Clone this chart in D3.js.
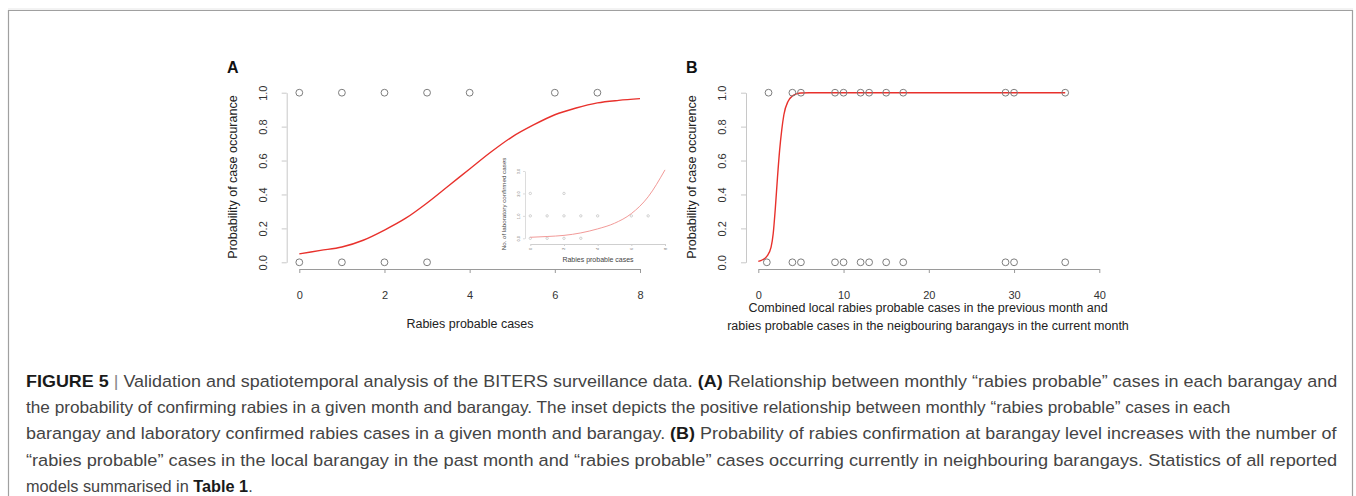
<!DOCTYPE html>
<html>
<head>
<meta charset="utf-8">
<script src="https://cdn.jsdelivr.net/npm/d3@7"></script>
<style>
  body { margin: 0; background: #fff; }
  svg { display: block; font-family: "Liberation Sans", Arial, sans-serif; }
</style>
</head>
<body>
<svg id="fig" width="1356" height="496"></svg>
<script>
// Panel A: observed points (x = rabies probable cases, y = 0/1 occurrence)
const aOnes = [0, 1, 2, 3, 4, 6, 7];
const aZeros = [0, 1, 2, 3];
// fitted curve
const aCurveX = [0, 0.5, 1, 1.5, 2, 2.5, 3, 3.5, 4, 4.5, 5, 5.5, 6, 6.5, 7, 7.5, 8];
const aCurveY = [0.05, 0.07, 0.09, 0.13, 0.19, 0.26, 0.35, 0.45, 0.55, 0.65, 0.74, 0.81, 0.87, 0.91, 0.94, 0.955, 0.965];

// Inset: laboratory confirmed cases vs probable cases
const insetTwos = [0, 2];
const insetOnes = [0, 1, 2, 3, 4, 6, 7];
const insetZeros = [0, 1, 2, 3];
const insetCurveX = [0, 1, 2, 3, 4, 5, 6, 7, 8];
const insetCurveY = [0.045, 0.08, 0.13, 0.24, 0.42, 0.67, 1.1, 1.85, 3.05];

// Panel B: combined local + neighbouring probable cases
const bOnes = [1.2, 4, 5, 9, 10, 12, 13, 15, 17, 29, 30, 36];
const bZeros = [1, 4, 5, 9, 10, 12, 13, 15, 17, 29, 30, 36];
const bCurveX = [0, 0.5, 1, 1.5, 1.75, 2, 2.25, 2.5, 2.75, 3, 3.5, 4, 4.5, 5, 6, 8, 36];
const bCurveY = [0.005, 0.015, 0.035, 0.09, 0.17, 0.32, 0.5, 0.66, 0.78, 0.87, 0.95, 0.98, 0.993, 0.998, 1, 1, 1];

const yTicks = [0, 0.2, 0.4, 0.6, 0.8, 1.0];
const aXTicks = [0, 2, 4, 6, 8];
const bXTicks = [0, 10, 20, 30, 40];
const insetXTicks = [0, 2, 4, 6, 8];
const insetYTicks = [0, 1, 2, 3];

const svg = d3.select("#fig");
const axisCol = "#9a9a9a";
const textCol = "#333";
const red = "#e8312c";

// frame
svg.append("line").attr("x1", 8).attr("x2", 1353).attr("y1", 9).attr("y2", 9).attr("stroke", "#e6e6e6").attr("stroke-width", 1);
svg.append("path").attr("d", "M8.5,497 V10.5 H1352.5 V497").attr("fill", "none").attr("stroke", "#a0a0a0").attr("stroke-width", 1.2);

const yScale = d3.scaleLinear().domain([0, 1]).range([262.3, 92.7]);

function styleAxis(g, col, tcol, fs) {
    g.select(".domain").attr("stroke", col);
    g.selectAll(".tick line").attr("stroke", col);
    g.selectAll(".tick text").attr("fill", tcol).attr("font-size", fs).attr("font-family", "Liberation Sans, Arial, sans-serif");
}

function drawPanel(opts) {
    const x = opts.x;
    const g = svg.append("g");

    // x axis
    const xa = g.append("g").attr("transform", "translate(0,269)")
        .call(d3.axisBottom(x).tickValues(opts.xTicks).tickSize(4).tickSizeOuter(0).tickPadding(18));
    styleAxis(xa, axisCol, textCol, 11);

    // y axis with rotated labels
    const ya = g.append("g").attr("transform", `translate(${opts.yAxisX},0)`)
        .call(d3.axisLeft(yScale).tickValues(yTicks).tickFormat(d3.format(".1f")).tickSize(5).tickSizeOuter(0));
    styleAxis(ya, "#c8c8c8", textCol, 11);
    ya.selectAll(".tick text").attr("x", 0).attr("dy", 0)
        .attr("text-anchor", "middle").attr("transform", "translate(-20,0) rotate(-90)");

    // curve
    const line = d3.line().x(d => x(d[0])).y(d => yScale(d[1])).curve(d3.curveMonotoneX);
    g.append("path").datum(d3.zip(opts.curveX, opts.curveY))
        .attr("d", line).attr("fill", "none").attr("stroke", red).attr("stroke-width", 1.4);

    // points
    const pts = opts.ones.map(v => [v, 1]).concat(opts.zeros.map(v => [v, 0]));
    g.selectAll("circle.pt").data(pts).enter().append("circle")
        .attr("cx", d => x(d[0])).attr("cy", d => yScale(d[1])).attr("r", 3.4)
        .attr("fill", "none").attr("stroke", "#7d7d7d").attr("stroke-width", 1);

    // panel letter
    g.append("text").attr("x", opts.letterX).attr("y", 73).attr("font-size", 16)
        .attr("font-weight", "bold").attr("fill", "#111").text(opts.letter);

    // y title
    g.append("text").attr("transform", `translate(${opts.yTitleX},177) rotate(-90)`)
        .attr("text-anchor", "middle").attr("font-size", 12.5).attr("fill", "#222").text(opts.yTitle);

    // x title lines
    opts.xTitle.forEach((t, i) => {
        g.append("text").attr("x", opts.xTitleX).attr("y", opts.xTitleY + i * 17.5)
            .attr("text-anchor", "middle").attr("font-size", 12.5).attr("fill", "#222").text(t);
    });
    return g;
}

const xA = d3.scaleLinear().domain([0, 8]).range([299.3, 640]);
drawPanel({
    x: xA, xTicks: aXTicks, yAxisX: 286.7, curveX: aCurveX, curveY: aCurveY,
    ones: aOnes, zeros: aZeros, letter: "A", letterX: 227, yTitleX: 237,
    yTitle: "Probability of case occurance",
    xTitle: ["Rabies probable cases"], xTitleX: 470, xTitleY: 328
});

const xB = d3.scaleLinear().domain([0, 40]).range([758.3, 1099.3]);
drawPanel({
    x: xB, xTicks: bXTicks, yAxisX: 746, curveX: bCurveX, curveY: bCurveY,
    ones: bOnes, zeros: bZeros, letter: "B", letterX: 686, yTitleX: 696,
    yTitle: "Probability of case occurence",
    xTitle: ["Combined local rabies probable cases in the previous month and",
             "rabies probable cases in the neigbouring barangays in the current month"],
    xTitleX: 928, xTitleY: 312
});

// inset
const xI = d3.scaleLinear().domain([0, 8]).range([530.3, 665]);
const yI = d3.scaleLinear().domain([0, 3]).range([238.3, 171]);
const inset = svg.append("g");
const ixa = inset.append("g").attr("transform", "translate(0,244)")
    .call(d3.axisBottom(xI).tickValues(insetXTicks).tickSize(2).tickSizeOuter(0).tickPadding(2));
styleAxis(ixa, "#cfcfcf", "#777", 4);
ixa.selectAll(".tick text").attr("y", 0).attr("dy", 0).attr("text-anchor", "middle")
    .attr("transform", "translate(1,5) rotate(-90)");
const iya = inset.append("g").attr("transform", "translate(525,0)")
    .call(d3.axisLeft(yI).tickValues(insetYTicks).tickSize(2).tickSizeOuter(0));
styleAxis(iya, "#dcdcdc", "#777", 4);
iya.selectAll(".tick text").attr("x", 0).attr("dy", 0).attr("text-anchor", "middle")
    .attr("transform", "translate(-5,0) rotate(-90)");

const iPts = insetTwos.map(v => [v, 2]).concat(insetOnes.map(v => [v, 1]), insetZeros.map(v => [v, 0]));
inset.selectAll("circle").data(iPts).enter().append("circle")
    .attr("cx", d => xI(d[0])).attr("cy", d => yI(d[1])).attr("r", 1.2)
    .attr("fill", "none").attr("stroke", "#b5b5b5").attr("stroke-width", 0.6);
inset.append("path").datum(d3.zip(insetCurveX, insetCurveY))
    .attr("d", d3.line().x(d => xI(d[0])).y(d => yI(d[1])).curve(d3.curveMonotoneX))
    .attr("fill", "none").attr("stroke", "#f29a98").attr("stroke-width", 1);
inset.append("text").attr("x", 598).attr("y", 262).attr("text-anchor", "middle")
    .attr("font-size", 7).attr("fill", "#444").text("Rabies probable cases");
inset.append("text").attr("transform", "translate(506,204) rotate(-90)").attr("text-anchor", "middle")
    .attr("font-size", 6.2).attr("fill", "#444").text("No. of laboratory confirmed cases");

// caption
const captionLines = [
    [["FIGURE 5", true], [" | ", false, "#888"], ["Validation and spatiotemporal analysis of the BITERS surveillance data. ", false], ["(A)", true], [" Relationship between monthly \u201Crabies probable\u201D cases in each barangay and", false]],
    [["the probability of confirming rabies in a given month and barangay. The inset depicts the positive relationship between monthly \u201Crabies probable\u201D cases in each", false]],
    [["barangay and laboratory confirmed rabies cases in a given month and barangay. ", false], ["(B)", true], [" Probability of rabies confirmation at barangay level increases with the number of", false]],
    [["\u201Crabies probable\u201D cases in the local barangay in the past month and \u201Crabies probable\u201D cases occurring currently in neighbouring barangays. Statistics of all reported", false]],
    [["models summarised in ", false], ["Table 1", true], [".", false]]
];
const captionWidths = [1312, 1205, 1311, 1312, 227];

// condensed look: draw each line at natural width, then squeeze horizontally
captionLines.forEach((segs, i) => {
    const t = svg.append("text").attr("x", 0).attr("y", 0)
        .attr("font-family", "'Liberation Sans', Arial, sans-serif")
        .attr("font-size", 16.5).attr("fill", "#444");
    segs.forEach(s => {
        t.append("tspan").attr("font-weight", s[1] ? "bold" : "normal")
            .attr("fill", s[2] || (s[1] ? "#1a1a1a" : "#444")).text(s[0]);
    });
    const w = t.node().getComputedTextLength();
    const k = captionWidths[i] / w;
    t.attr("transform", `translate(26,${387 + i * 26.2}) scale(${k},1)`);
});
</script>
</body>
</html>
